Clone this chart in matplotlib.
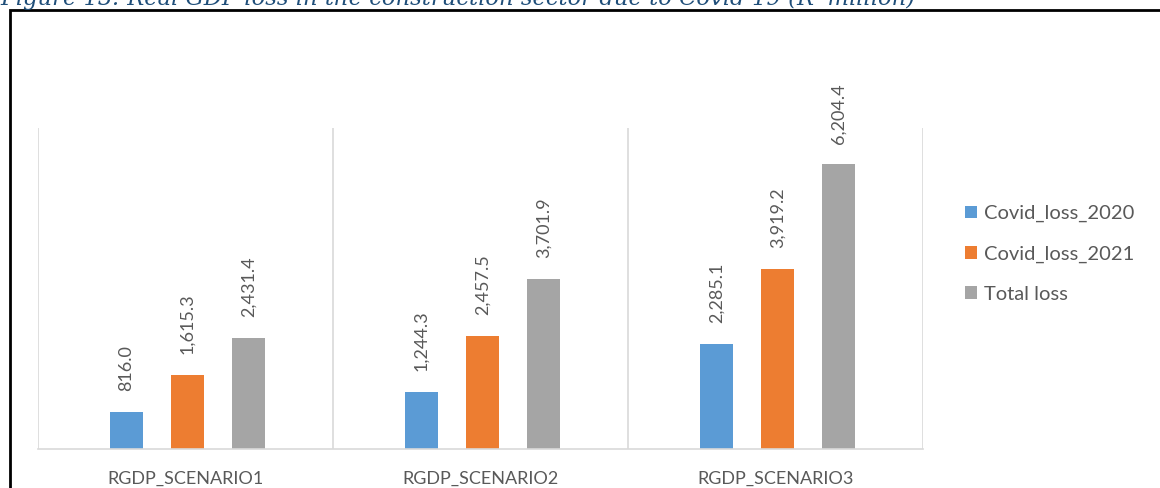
import numpy as np
import matplotlib
matplotlib.use("Agg")
import matplotlib.pyplot as plt
from matplotlib.patches import Rectangle

plt.rcParams['font.family'] = ['Lato', 'DejaVu Sans']

scenarios = ['RGDP_SCENARIO1', 'RGDP_SCENARIO2', 'RGDP_SCENARIO3']
series_names = ['Covid_loss_2020', 'Covid_loss_2021', 'Total loss']
loss_2020 = [816.0, 1244.3, 2285.1]
loss_2021 = [1615.3, 2457.5, 3919.2]
total_loss = [2431.4, 3701.9, 6204.4]
colors = ['#5B9BD5', '#ED7D31', '#A5A5A5']

title = "Figure 13: Real GDP loss in the construction sector due to Covid-19 (R' million)"

fig = plt.figure(figsize=(11.6, 4.88), dpi=100)
ax = fig.add_axes([38 / 1160, 39 / 488, 885 / 1160, 321 / 488])

x = np.arange(len(scenarios))
width = 0.11
step = 0.207
txt = '#595959'

for i, (vals, name) in enumerate(zip([loss_2020, loss_2021, total_loss], series_names)):
    pos = x + (i - 1) * step + 0.007
    bars = ax.bar(pos, vals, width, color=colors[i], label=name)
    for b, v in zip(bars, vals):
        ax.annotate(f'{v:,.1f}', (b.get_x() + b.get_width() / 2, v),
                    xytext=(0, 15), textcoords='offset points',
                    rotation=90, ha='center', va='bottom',
                    fontsize=13, color=txt)

ax.set_xlim(-0.5, 2.5)
ax.set_ylim(0, 7000)
ax.set_yticks([])
ax.set_xticks(x)
ax.set_xticklabels(scenarios, fontsize=13, color=txt)
ax.tick_params(axis='x', length=0, pad=16)

# category separators
for xs in [-0.5, 0.5, 1.5, 2.5]:
    ax.axvline(xs, color='#d9d9d9', lw=1.2, zorder=0)
for s in ['top', 'right', 'left']:
    ax.spines[s].set_visible(False)
ax.spines['bottom'].set_color('#d9d9d9')
ax.spines['bottom'].set_linewidth(1.2)

fig.legend(loc='center left', bbox_to_anchor=(965 / 1160, 1 - 254 / 488),
           frameon=False, fontsize=14.5, handlelength=0.6, handleheight=0.6,
           handletextpad=0.35, labelspacing=1.15, borderpad=0, borderaxespad=0,
           labelcolor=txt)

# outer frame, open at right and bottom like the cropped source
fig.patches.append(Rectangle((10 / 1160, -0.2), 1.2, 1.2 - 10 / 488,
                             transform=fig.transFigure, fill=False,
                             edgecolor='black', lw=2))

# caption sits partly above the crop, as in the source
fig.text(0.0, 1 - 5 / 488, title, fontsize=16.3, style='italic',
         family='DejaVu Serif', color='#1F4E79', va='baseline', ha='left')

fig.savefig('out.png', dpi=100)
